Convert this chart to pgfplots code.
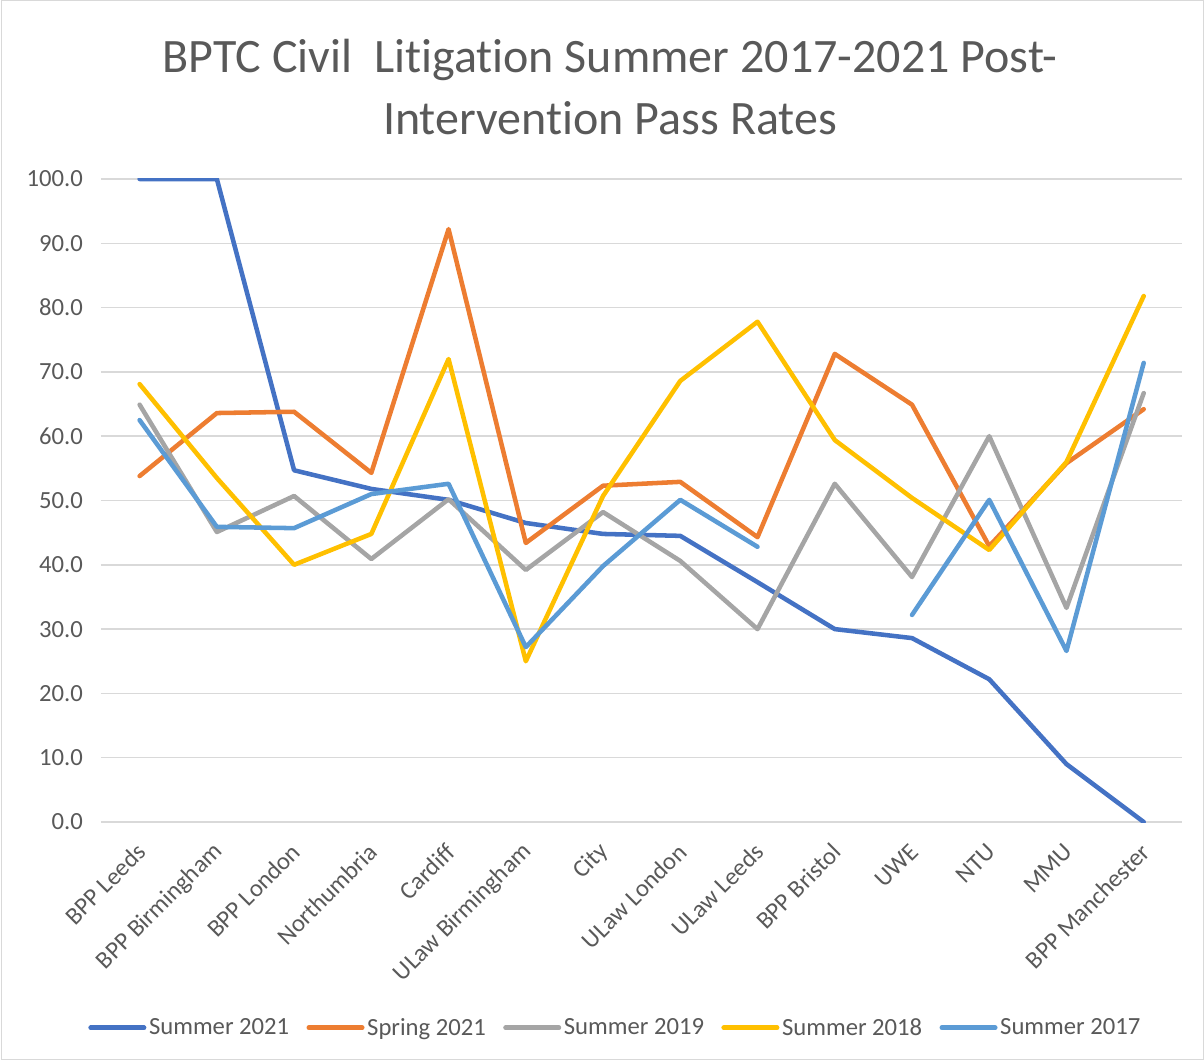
\documentclass[border=0pt]{standalone}
\usepackage{pgfplots}
\pgfplotsset{compat=1.18}
\usepackage{pgfplotstable}
\usepackage{fontspec}
\setmainfont{Carlito}[Ligatures=NoCommon]
\definecolor{cA}{HTML}{4472C4}
\definecolor{cB}{HTML}{ED7D31}
\definecolor{cC}{HTML}{A5A5A5}
\definecolor{cD}{HTML}{FFC000}
\definecolor{cE}{HTML}{5B9BD5}
\definecolor{txt}{HTML}{595959}
\definecolor{gridc}{HTML}{D9D9D9}
\pgfplotstableread{
x  s21   sp21  s19   s18   s17
0  100.0 53.8  64.9  68.1  62.5
1  100.0 63.6  45.1  53.5  45.9
2  54.7  63.8  50.7  40.0  45.7
3  51.8  54.3  40.9  44.8  51.0
4  50.1  92.2  50.2  72.0  52.6
5  46.5  43.4  39.2  25.0  27.2
6  44.8  52.3  48.2  50.7  39.8
7  44.5  52.9  40.6  68.6  50.1
8  37.3  44.3  30.0  77.8  42.8
9  30.0  72.8  52.6  59.4  nan
10 28.6  64.9  38.1  50.4  32.2
11 22.2  42.9  60.0  42.3  50.1
12 9.0   55.8  33.3  56.0  26.6
13 0.0   64.2  66.7  81.8  71.4
}\data
\begin{document}
\begin{tikzpicture}[x=0.75pt,y=0.75pt]
\path[use as bounding box] (0,0) rectangle (1204,1061);
\draw[color=gridc, line width=0.75pt] (1,1) rectangle (1203,1060);
\node[text=txt, font=\fontsize{36}{43}\selectfont] at (610,1001) {BPTC Civil\ \ Litigation Summer 2017-2021 Post-};
\node[text=txt, font=\fontsize{36}{43}\selectfont] at (610,943) {Intervention Pass Rates};
\begin{axis}[
  at={(75.75pt,179.25pt)}, anchor=south west,
  scale only axis, width=811pt, height=482.25pt,
  xmin=-0.5, xmax=13.5, ymin=0, ymax=100,
  ytick={0,10,...,100}, xtick={0,...,13},
  xticklabels={BPP Leeds,BPP Birmingham,BPP London,Northumbria,Cardiff,ULaw Birmingham,City,ULaw London,ULaw Leeds,BPP Bristol,UWE,NTU,MMU,BPP Manchester},
  ymajorgrids, grid style={draw=gridc, line width=1.1pt},
  separate axis lines,
  axis x line*=bottom, axis y line*=left,
  y axis line style={draw=none},
  x axis line style={draw=gridc, line width=1.1pt, -},
  major tick length=0pt,
  /pgf/number format/assume math mode=true,
  yticklabel={\pgfmathprintnumber[fixed,fixed zerofill,precision=1]{\tick}},
  yticklabel style={text=txt, font=\fontsize{18.5}{22}\selectfont, xshift=-10pt},
  xticklabel style={text=txt, font=\fontsize{18.5}{22}\selectfont, xshift=4pt, yshift=-17pt, rotate=45, anchor=east},
  unbounded coords=jump,
  legend style={at={(0.476,-0.32)}, anchor=center, draw=none, legend columns=5,
    font=\fontsize{18.5}{22}\selectfont, text=txt,
    /tikz/every even column/.append style={column sep=11pt}},
  legend image code/.code={\draw[#1, line width=3.5pt, line cap=round] (0pt,0pt) -- (40pt,0pt);},
  every axis plot/.append style={line width=3.4pt, line join=round, line cap=round, no markers},
]
\addplot[cA] table[x=x,y=s21] {\data};
\addlegendentry{Summer 2021}
\addplot[cB] table[x=x,y=sp21] {\data};
\addlegendentry{Spring 2021}
\addplot[cC] table[x=x,y=s19] {\data};
\addlegendentry{Summer 2019}
\addplot[cD] table[x=x,y=s18] {\data};
\addlegendentry{Summer 2018}
\addplot[cE] table[x=x,y=s17] {\data};
\addlegendentry{Summer 2017}
\end{axis}
\end{tikzpicture}
\end{document}
